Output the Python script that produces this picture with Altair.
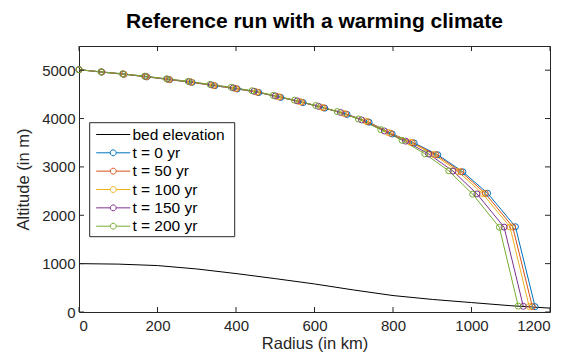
import altair as alt
import pandas as pd

# ---------------- data ----------------
x_ticks = [0, 200, 400, 600, 800, 1000, 1200]
y_ticks = [0, 1000, 2000, 3000, 4000, 5000]

bed_r = [0, 100, 200, 300, 400, 500, 600, 700, 800, 900, 1000, 1100, 1200]
bed_z = [1000, 990, 960, 890, 795, 690, 580, 455, 340, 260, 195, 130, 80]

labels = ["t = 0 yr", "t = 50 yr", "t = 100 yr", "t = 150 yr", "t = 200 yr"]

r_t0 = [0, 58, 115, 173, 231, 288, 346, 403, 458, 514, 571, 626, 683, 739, 798, 854, 914, 978, 1041, 1112, 1162]
z_t0 = [5010, 4960, 4915, 4862, 4803, 4747, 4678, 4612, 4537, 4437, 4330, 4215, 4085, 3925, 3680, 3494, 3251, 2898, 2456, 1763, 110]

r_t50 = [0, 58, 114, 172, 230, 286, 344, 401, 455, 511, 567, 623, 679, 735, 794, 849, 909, 973, 1035, 1105, 1155]
z_t50 = [5010, 4961, 4917, 4864, 4806, 4751, 4682, 4617, 4543, 4444, 4338, 4224, 4095, 3935, 3694, 3503, 3254, 2901, 2453, 1761, 112]

r_t100 = [0, 57, 114, 171, 228, 285, 342, 398, 452, 507, 563, 618, 674, 730, 788, 843, 903, 966, 1028, 1098, 1147]
z_t100 = [5010, 4962, 4919, 4867, 4810, 4755, 4688, 4624, 4550, 4452, 4348, 4234, 4106, 3948, 3712, 3514, 3258, 2905, 2449, 1759, 115]

r_t150 = [0, 57, 112, 169, 225, 281, 337, 393, 446, 500, 556, 610, 666, 720, 778, 832, 891, 953, 1014, 1083, 1132]
z_t150 = [5010, 4965, 4922, 4872, 4816, 4763, 4698, 4635, 4564, 4467, 4365, 4253, 4127, 3971, 3743, 3533, 3266, 2913, 2442, 1755, 118]

r_t200 = [0, 56, 111, 167, 223, 278, 334, 388, 441, 495, 549, 603, 658, 712, 769, 823, 881, 942, 1003, 1071, 1119]
z_t200 = [5010, 4967, 4925, 4876, 4822, 4770, 4706, 4645, 4575, 4480, 4380, 4270, 4145, 3990, 3770, 3550, 3272, 2919, 2436, 1751, 122]

series_names = ["bed elevation"] + labels
series_colors = ["#000000", "#0072BD", "#D95319", "#EDB120", "#7E2F8E", "#77AC30"]

# ---------------- tables ----------------
rows = []
for k, (r, z) in enumerate(zip(bed_r, bed_z)):
    rows.append({"series": "bed elevation", "r": r, "z": z, "k": k})
for name, rr, zz in zip(labels, [r_t0, r_t50, r_t100, r_t150, r_t200],
                        [z_t0, z_t50, z_t100, z_t150, z_t200]):
    for k, (r, z) in enumerate(zip(rr, zz)):
        rows.append({"series": name, "r": r, "z": z, "k": k})
lines_df = pd.DataFrame(rows)
pts_df = lines_df[lines_df["series"] != "bed elevation"].reset_index(drop=True)

W, H = 471, 266
FONT = "Liberation Sans"
AX = "#262626"

xscale = alt.Scale(domain=[0, 1200], nice=False, zero=False)
yscale = alt.Scale(domain=[0, 5500], nice=False, zero=False)
stroke_scale = alt.Scale(domain=series_names, range=series_colors)
point_scale = alt.Scale(domain=labels, range=series_colors[1:])

# legend glyphs (unit square scaled by sqrt(symbolSize)/2)
line_path = "M-1,0L2.78,0"
circ_path = ("M-1,0L0.557,0M1.223,0L2.78,0"
             "M1.223,0L1.178,0.167L1.057,0.288L0.89,0.333L0.724,0.288L0.602,0.167"
             "L0.557,0L0.602,-0.167L0.724,-0.288L0.89,-0.333L1.057,-0.288L1.178,-0.167Z")

LEG_X = 13.7
common_leg = dict(
    title=None, orient="none", legendX=LEG_X,
    symbolSize=324, symbolStrokeWidth=1,
    labelOffset=17.7, labelFont=FONT, labelFontSize=15.5, labelColor="#000000",
    rowPadding=0.35, padding=3,
)
legend_bed = alt.Legend(values=["bed elevation"], legendY=76, symbolType=line_path, **common_leg)
legend_runs = alt.Legend(legendY=94.3, symbolType=circ_path,
                         symbolFillColor="transparent", **common_leg)

xenc = alt.X("r:Q", scale=xscale,
             axis=alt.Axis(values=x_ticks, title="Radius (in km)", format="d"))
yenc = alt.Y("z:Q", scale=yscale,
             axis=alt.Axis(values=y_ticks, title="Altitude (in m)", format="d"))

lines = alt.Chart(lines_df).mark_line(strokeWidth=1).encode(
    x=xenc, y=yenc,
    stroke=alt.Stroke("series:N", scale=stroke_scale, legend=legend_bed),
    detail="series:N",
    order="k:Q",
)

points = alt.Chart(pts_df).mark_point(filled=False, size=36, strokeWidth=1, opacity=1).encode(
    x=xenc, y=yenc,
    color=alt.Color("series:N", scale=point_scale, legend=legend_runs),
)

xt = pd.DataFrame({"r": x_ticks})
yt = pd.DataFrame({"z": y_ticks})
tick_style = dict(color=AX, strokeWidth=1)
xt_bottom = alt.Chart(xt).mark_rule(**tick_style).encode(
    x=xenc, y=alt.value(H), y2=alt.value(H - 5))
xt_top = alt.Chart(xt).mark_rule(**tick_style).encode(
    x=xenc, y=alt.value(0), y2=alt.value(5))
yt_left = alt.Chart(yt).mark_rule(**tick_style).encode(
    y=yenc, x=alt.value(0), x2=alt.value(5))
yt_right = alt.Chart(yt).mark_rule(**tick_style).encode(
    y=yenc, x=alt.value(W), x2=alt.value(W - 5))

# white frame behind the two legend blocks
frame = alt.Chart(pd.DataFrame({"f": [0]})).mark_rect(
    fill="white", stroke=AX, strokeWidth=1).encode(
    x=alt.value(10.7), x2=alt.value(155.7), y=alt.value(76.7), y2=alt.value(190.7))

chart = alt.layer(lines, points, xt_bottom, xt_top, yt_left, yt_right, frame).properties(
    width=W, height=H,
    title=alt.Title("Reference run with a warming climate", font=FONT, fontSize=21,
                    fontWeight="bold", color="#000000", anchor="middle", offset=14),
    autosize=alt.AutoSizeParams(type="none"),
    padding={"left": 71, "top": 38, "right": 10, "bottom": 41},
).configure_view(
    stroke=AX, strokeWidth=1,
).configure_axis(
    domain=False, ticks=False, grid=False,
    labelFont=FONT, labelFontSize=15, labelColor=AX,
    titleFont=FONT, titleFontSize=16.5, titleColor=AX, titleFontWeight="normal",
).configure_axisX(labelPadding=6, titlePadding=2).configure_axisY(labelPadding=4, titlePadding=10)

chart.save("out.html", embed_options={"renderer": "svg", "actions": False})
